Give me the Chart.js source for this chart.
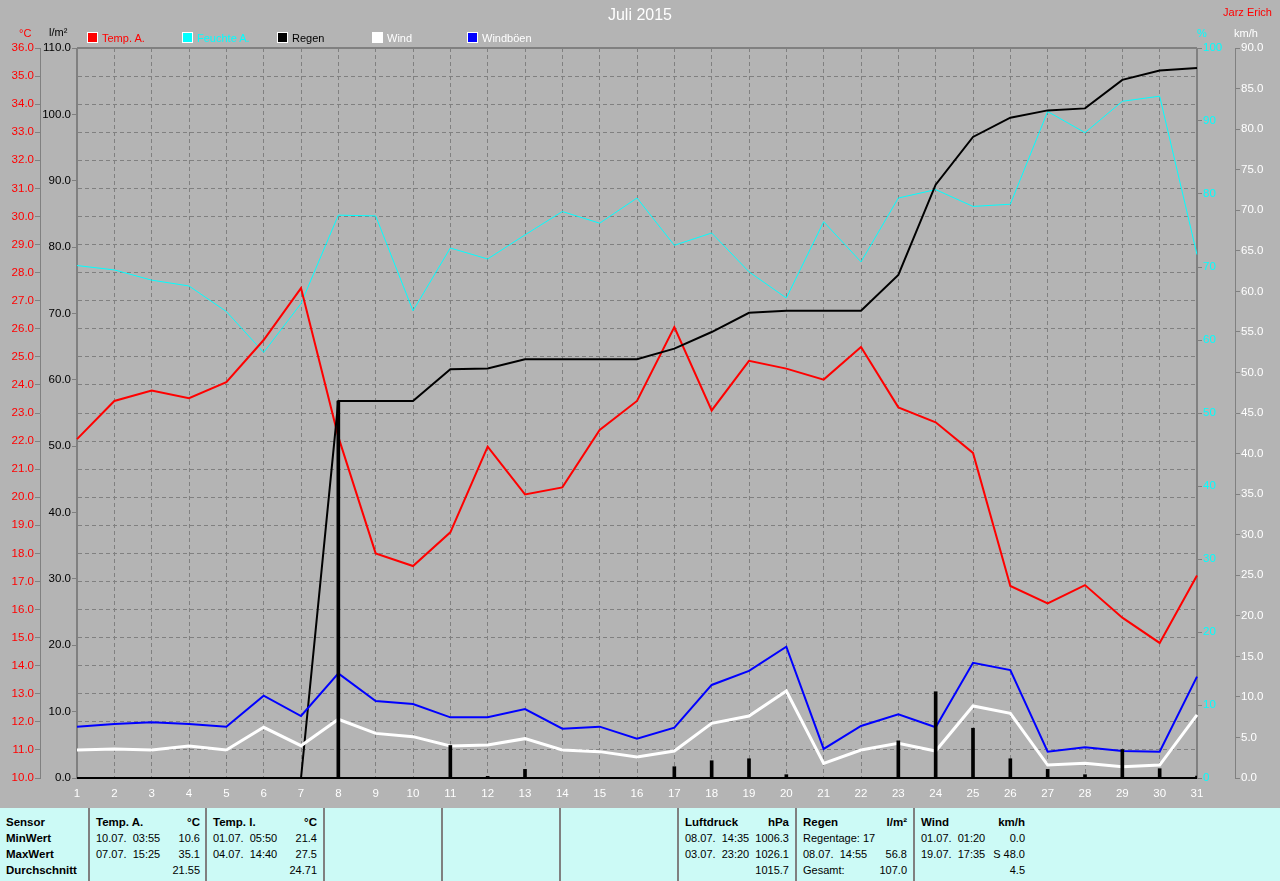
<!DOCTYPE html>
<html>
<head>
<meta charset="utf-8">
<script src="https://cdn.jsdelivr.net/npm/chart.js@4/dist/chart.umd.min.js"></script>
<style>
  html, body { margin: 0; padding: 0; background: #b4b4b4; }
  body { width: 1280px; height: 881px; position: relative; overflow: hidden;
         font-family: "Liberation Sans", Arial, sans-serif; font-size: 11px; }
  #chart { position: absolute; left: 0; top: 0; }
  .t { position: absolute; white-space: pre; line-height: 14px; }
  .leg { position: absolute; top: 31px; line-height: 14px; white-space: nowrap; font-size: 11px; }
  .leg i { display: inline-block; width: 9px; height: 9px; border: 1px solid #fff;
           vertical-align: -1px; margin-right: 4px; }
  #stats { position: absolute; left: 0; top: 808px; width: 1280px; height: 73px; background: #ccfaf6; color: #000; }
  .col { position: absolute; top: 0; height: 73px; border-left: 2px solid #808080; }
  .row { position: absolute; left: 0; right: 0; height: 16px; line-height: 16px; white-space: pre; }
  .row .l { position: absolute; left: 6px; }
  .row .r { position: absolute; right: 6px; }
  .b { font-weight: bold; font-size: 11.5px; }
</style>
</head>
<body>
<canvas id="chart" width="1280" height="800"></canvas>

<div class="t" style="left:0;width:1280px;top:8px;text-align:center;color:#fff;font-size:16px;">Juli 2015</div>
<div class="t" style="right:8px;top:5px;color:#ff0000;font-size:11px;">Jarz Erich</div>
<div class="t" style="left:19px;top:26px;color:#ff0000;">°C</div>
<div class="t" style="left:49px;top:25px;color:#000;">l/m²</div>
<div class="t" style="left:1197px;top:26px;color:#00ffff;">%</div>
<div class="t" style="left:1234px;top:26px;color:#fff;">km/h</div>

<div class="leg" style="left:87px;color:#ff0000;"><i style="background:#ff0000"></i>Temp. A.</div>
<div class="leg" style="left:182px;color:#00ffff;"><i style="background:#00ffff"></i>Feuchte A.</div>
<div class="leg" style="left:277px;color:#000;"><i style="background:#000"></i>Regen</div>
<div class="leg" style="left:372px;color:#fff;"><i style="background:#fff"></i>Wind</div>
<div class="leg" style="left:467px;color:#fff;"><i style="background:#0000ff"></i>Windböen</div>

<div id="stats">
  <div class="col" style="left:-2px;width:88px;border-left:none;">
    <div class="row b" style="top:6px"><span class="l" style="left:8px">Sensor</span></div>
    <div class="row b" style="top:22px"><span class="l" style="left:8px">MinWert</span></div>
    <div class="row b" style="top:38px"><span class="l" style="left:8px">MaxWert</span></div>
    <div class="row b" style="top:54px"><span class="l" style="left:8px">Durchschnitt</span></div>
  </div>
  <div class="col" style="left:88px;width:116px;">
    <div class="row b" style="top:6px"><span class="l">Temp. A.</span><span class="r">°C</span></div>
    <div class="row" style="top:22px"><span class="l">10.07.  03:55</span><span class="r">10.6</span></div>
    <div class="row" style="top:38px"><span class="l">07.07.  15:25</span><span class="r">35.1</span></div>
    <div class="row" style="top:54px"><span class="r">21.55</span></div>
  </div>
  <div class="col" style="left:205px;width:116px;">
    <div class="row b" style="top:6px"><span class="l">Temp. I.</span><span class="r">°C</span></div>
    <div class="row" style="top:22px"><span class="l">01.07.  05:50</span><span class="r">21.4</span></div>
    <div class="row" style="top:38px"><span class="l">04.07.  14:40</span><span class="r">27.5</span></div>
    <div class="row" style="top:54px"><span class="r">24.71</span></div>
  </div>
  <div class="col" style="left:323px;width:116px;"></div>
  <div class="col" style="left:441px;width:116px;"></div>
  <div class="col" style="left:559px;width:116px;"></div>
  <div class="col" style="left:677px;width:116px;">
    <div class="row b" style="top:6px"><span class="l">Luftdruck</span><span class="r">hPa</span></div>
    <div class="row" style="top:22px"><span class="l">08.07.  14:35</span><span class="r">1006.3</span></div>
    <div class="row" style="top:38px"><span class="l">03.07.  23:20</span><span class="r">1026.1</span></div>
    <div class="row" style="top:54px"><span class="r">1015.7</span></div>
  </div>
  <div class="col" style="left:795px;width:116px;">
    <div class="row b" style="top:6px"><span class="l">Regen</span><span class="r">l/m²</span></div>
    <div class="row" style="top:22px"><span class="l">Regentage: 17</span></div>
    <div class="row" style="top:38px"><span class="l">08.07.  14:55</span><span class="r">56.8</span></div>
    <div class="row" style="top:54px"><span class="l">Gesamt:</span><span class="r">107.0</span></div>
  </div>
  <div class="col" style="left:913px;width:116px;">
    <div class="row b" style="top:6px"><span class="l">Wind</span><span class="r">km/h</span></div>
    <div class="row" style="top:22px"><span class="l">01.07.  01:20</span><span class="r">0.0</span></div>
    <div class="row" style="top:38px"><span class="l">19.07.  17:35</span><span class="r">S 48.0</span></div>
    <div class="row" style="top:54px"><span class="r">4.5</span></div>
  </div>
</div>

<script>
// --- values ---
const days = ["1","2","3","4","5","6","7","8","9","10","11","12","13","14","15","16",
              "17","18","19","20","21","22","23","24","25","26","27","28","29","30","31"];

const tempA = [22.07, 23.43, 23.8, 23.53, 24.1, 25.6, 27.45, 22.15, 18.0, 17.55, 18.75,
               21.8, 20.1, 20.35, 22.4, 23.43, 26.06, 23.09, 24.86, 24.58, 24.19, 25.35,
               23.2, 22.67, 21.58, 16.84, 16.22, 16.87, 15.71, 14.81, 17.21];

const humidity = [70.2, 69.6, 68.2, 67.4, 63.9, 58.3, 65.0, 77.1, 77.0, 64.0, 72.6,
                  71.1, 74.4, 77.6, 76.0, 79.45, 72.97, 74.66, 69.34, 65.75, 76.2, 70.7,
                  79.45, 80.6, 78.3, 78.6, 91.3, 88.4, 92.7, 93.4, 71.7];

const rainSum = [0, 0, 0, 0, 0, 0, 0, 56.8, 56.8, 56.8, 61.6, 61.7, 63.1, 63.1, 63.1, 63.1,
                 64.7, 67.2, 70.1, 70.4, 70.4, 70.4, 75.8, 89.4, 96.6, 99.5, 100.6, 100.9,
                 105.2, 106.6, 107.0];

const rainDay = [0, 0, 0, 0, 0, 0, 0, 56.8, 0, 0, 4.9, 0.25, 1.3, 0, 0, 0,
                 1.7, 2.6, 2.9, 0.5, 0, 0, 5.6, 13.0, 7.5, 2.9, 1.3, 0.5, 4.3, 1.4, 0.3];

const wind = [3.45, 3.58, 3.45, 3.95, 3.45, 6.25, 3.98, 7.24, 5.5, 5.1, 3.95, 4.07, 4.85,
              3.45, 3.25, 2.6, 3.33, 6.74, 7.64, 10.73, 1.81, 3.45, 4.27, 3.33, 8.88, 7.97,
              1.6, 1.81, 1.4, 1.6, 7.77];

const gusts = [6.33, 6.66, 6.87, 6.66, 6.33, 10.15, 7.64, 12.9, 9.5, 9.12, 7.48, 7.48, 8.5,
               6.08, 6.33, 4.85, 6.2, 11.47, 13.2, 16.19, 3.58, 6.41, 7.85, 6.25, 14.2, 13.3,
               3.25, 3.78, 3.33, 3.25, 12.5];

// axis ranges
const tempRange = [10, 36, 1];
const rainRange = [0, 110, 10];
const humRange = [0, 100, 10];
const windRange = [0, 90, 5];

const GRID = "#808080";
const FONT = { family: '"Liberation Sans", Arial, sans-serif', size: 11.5 };

function fixWidth(w) {
  return (scale) => { scale.width = w; };
}

// frame around the plot area
const plotFrame = {
  id: "plotFrame",
  beforeDatasetsDraw(chart) {
    const { ctx, chartArea: a } = chart;
    ctx.save();
    ctx.strokeStyle = GRID;
    ctx.lineWidth = 2;
    ctx.beginPath();
    ctx.moveTo(a.left, a.top); ctx.lineTo(a.right, a.top);
    ctx.moveTo(a.left, a.top); ctx.lineTo(a.left, a.bottom);
    ctx.moveTo(a.right, a.top); ctx.lineTo(a.right, a.bottom);
    ctx.stroke();
    ctx.strokeStyle = "#000";
    ctx.beginPath();
    ctx.moveTo(a.left, a.bottom); ctx.lineTo(a.right, a.bottom);
    ctx.stroke();
    ctx.restore();
  },
};

function sideAxis(range, position, weight, color, width, decimals) {
  return {
    position, weight,
    min: range[0], max: range[1],
    ticks: {
      stepSize: range[2], color, font: FONT, padding: 1,
      callback: (v) => decimals ? Number(v).toFixed(decimals) : String(v),
    },
    grid: { drawOnChartArea: false, color: GRID, tickLength: 5 },
    border: { color: GRID, width: 1 },
    afterFit: fixWidth(width),
  };
}

const tempAxis = sideAxis(tempRange, "left", 2, "#ff0000", 40, 1);
tempAxis.grid = { drawOnChartArea: true, color: GRID, tickLength: 5 };
tempAxis.border = { color: GRID, width: 1, dash: [4, 3] };

new Chart(document.getElementById("chart"), {
  type: "line",
  data: {
    labels: days,
    datasets: [
      { type: "bar", label: "Regen Tag", data: rainDay, yAxisID: "rain",
        backgroundColor: "#000", barThickness: 3, order: 0 },
      { label: "Windböen", data: gusts, yAxisID: "wind", borderColor: "#0000ff", borderWidth: 2, order: 1 },
      { label: "Wind", data: wind, yAxisID: "wind", borderColor: "#ffffff", borderWidth: 3, order: 2 },
      { label: "Regen", data: rainSum, yAxisID: "rain", borderColor: "#000000", borderWidth: 2, order: 3 },
      { label: "Temp. A.", data: tempA, yAxisID: "temp", borderColor: "#ff0000", borderWidth: 2, order: 4 },
      { label: "Feuchte A.", data: humidity, yAxisID: "hum", borderColor: "#00ffff", borderWidth: 1, order: 5 },
    ],
  },
  options: {
    responsive: false,
    animation: false,
    devicePixelRatio: 1,
    layout: { padding: { top: 48, left: 0, right: 0, bottom: 0 } },
    elements: { point: { radius: 0 }, line: { tension: 0, fill: false } },
    plugins: { legend: { display: false }, tooltip: { enabled: false } },
    scales: {
      x: {
        type: "category", offset: false,
        grid: { color: GRID, offset: false, drawTicks: false },
        border: { display: false, dash: [4, 3] },
        ticks: { color: "#fff", font: FONT, padding: 9, autoSkip: false, maxRotation: 0 },
        afterFit: (s) => { s.height = 22; },
      },
      temp: tempAxis,
      rain: sideAxis(rainRange, "left", 1, "#000", 37, 1),
      hum: sideAxis(humRange, "right", 1, "#00ffff", 38, 0),
      wind: sideAxis(windRange, "right", 2, "#ffffff", 45, 1),
    },
  },
  plugins: [plotFrame],
});
</script>
</body>
</html>
